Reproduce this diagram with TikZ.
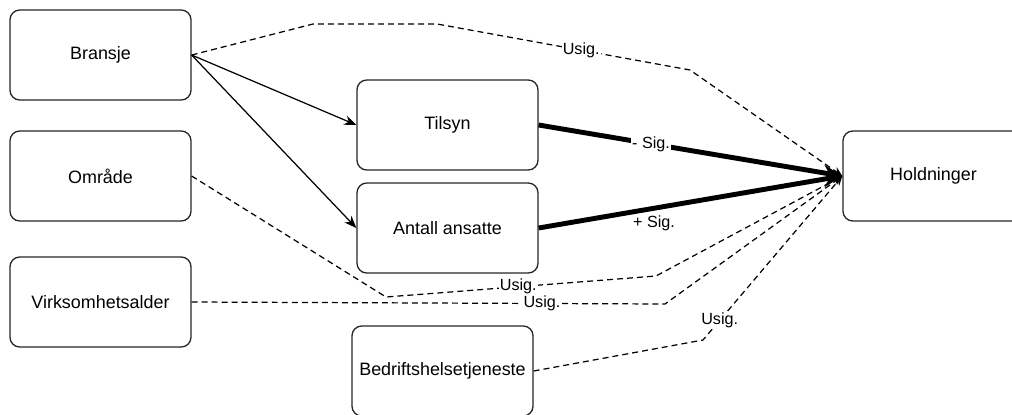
\documentclass[tikz,border=0pt]{standalone}
\usepackage{fontspec}
\setmainfont{Liberation Sans}
\usetikzlibrary{arrows.meta}
\begin{document}
\begin{tikzpicture}[x=0.02cm,y=-0.02cm,
  box/.style={draw=black!85,line width=0.75pt,rounded corners=5.5pt,minimum width=3.62cm,minimum height=1.8cm,inner sep=0pt,font=\fontsize{10.2}{12}\selectfont},
  usig/.style={dash pattern=on 3.4pt off 2.3pt,line width=0.7pt,-{Stealth[length=5.5pt,width=4.5pt]}},
  sig/.style={line width=2.8pt,-{Stealth[length=11pt,width=9pt]}},
  lbl/.style={fill=white,inner sep=0.6pt,font=\fontsize{9.2}{10}\selectfont}]
\useasboundingbox (0,0) rectangle (1012,414);
\clip (0,0) rectangle (1012,414);
% boxes
\node[box] (bransje) at (100.5,55) {Bransje};
\node[box] (omraade) at (100.5,176) {Område};
\node[box] (alder) at (100.5,302) {Virksomhetsalder};
\node[box] (tilsyn) at (447.5,125) {Tilsyn};
\node[box] (ansatte) at (447.5,228) {Antall ansatte};
\node[box] (bht) at (442.5,371) {Bedriftshelsetjeneste};
\node[box] (holdninger) at (933.5,176) {Holdninger};
% bransje via mediators
\draw[line width=0.7pt,-{Stealth[length=7pt,width=5.5pt]}] (bransje.east) -- (tilsyn.west);
\draw[line width=0.7pt,-{Stealth[length=7pt,width=5.5pt]}] (bransje.east) -- (ansatte.west);
\draw[sig] (tilsyn.east) -- (holdninger.west) node[lbl,pos=0.37] {- Sig.};
\draw[sig] (ansatte.east) -- (holdninger.west) node[lbl,fill=none,pos=0.38,yshift=-8.5pt] {+ Sig.};
% insignificant paths
\draw[usig] (bransje.east) -- (313,24) -- (437,24) -- (690,70) node[lbl,pos=0.57] {Usig.} -- (holdninger.west);
\draw[usig] (omraade.east) -- (386,297) -- (656,276) node[lbl,pos=0.49] {Usig.} -- (holdninger.west);
\draw[usig] (alder.east) -- (665,304) node[lbl,pos=0.74] {Usig.} -- (holdninger.west);
\draw[usig] (bht.east) -- (703,340) -- (holdninger.west) node[lbl,pos=0.12] {Usig.};
\end{tikzpicture}
\end{document}
